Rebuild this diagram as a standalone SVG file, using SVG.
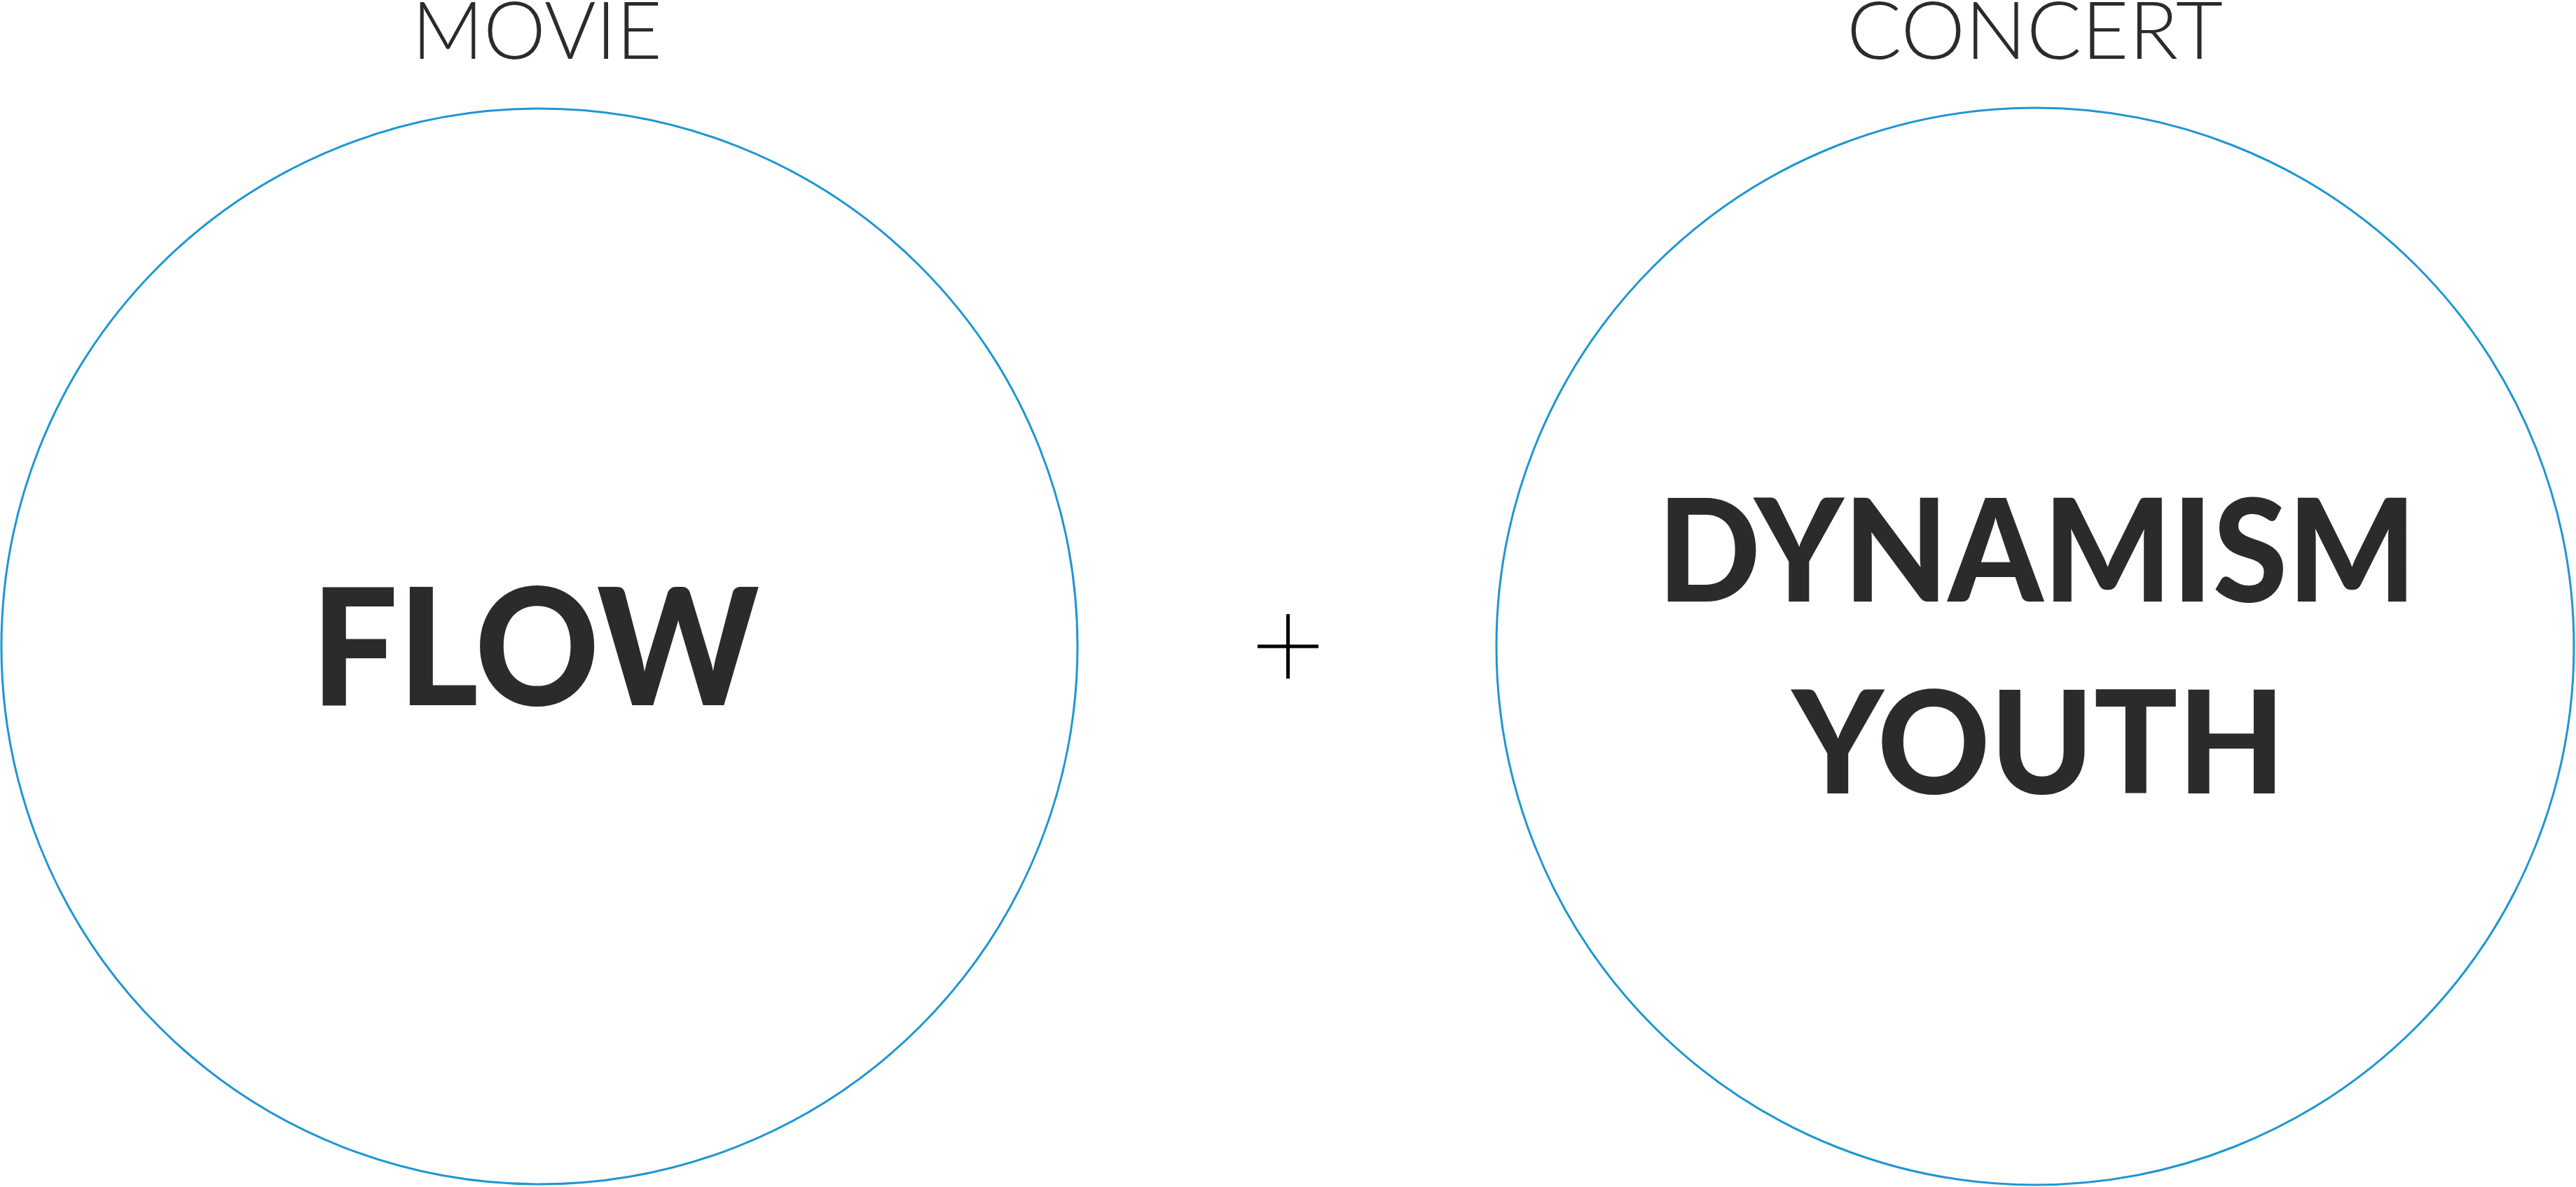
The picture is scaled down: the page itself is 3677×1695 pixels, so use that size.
<svg xmlns="http://www.w3.org/2000/svg" width="3677" height="1695" viewBox="0 0 3677 1695">
<style>
.ring{fill:none;stroke:#1e96d3;stroke-width:3}
.label{font-family:Lato,"Liberation Sans",sans-serif;font-weight:300;fill:#2c2a2b}
.word{font-family:Lato,"Liberation Sans",sans-serif;font-weight:900;fill:#2c2a2b}
.plus{stroke:#000;stroke-width:5;fill:none}
</style>
<rect width="3677" height="1695" fill="#fff"/>
<g id="movie">
<circle class="ring" cx="770" cy="923" r="768"/>
<text class="label" x="588" y="84" font-size="114" textLength="357" lengthAdjust="spacingAndGlyphs">MOVIE</text>
<text class="word" x="444" y="1007" font-size="232" textLength="640" lengthAdjust="spacingAndGlyphs">FLOW</text>
</g>
<g id="concert">
<circle class="ring" cx="2905" cy="923" r="769"/>
<text class="label" x="2636" y="84" font-size="114" textLength="537" lengthAdjust="spacingAndGlyphs">CONCERT</text>
<text class="word" x="2366" y="859" font-size="204" textLength="1083" lengthAdjust="spacingAndGlyphs">DYNAMISM</text>
<text class="word" x="2558" y="1133" font-size="204" textLength="704" lengthAdjust="spacingAndGlyphs">YOUTH</text>
</g>
<g id="plus">
<line class="plus" x1="1795" y1="923" x2="1882" y2="923"/>
<line class="plus" x1="1838.5" y1="877" x2="1838.5" y2="969"/>
</g>
<g id="connectors"></g>
</svg>
